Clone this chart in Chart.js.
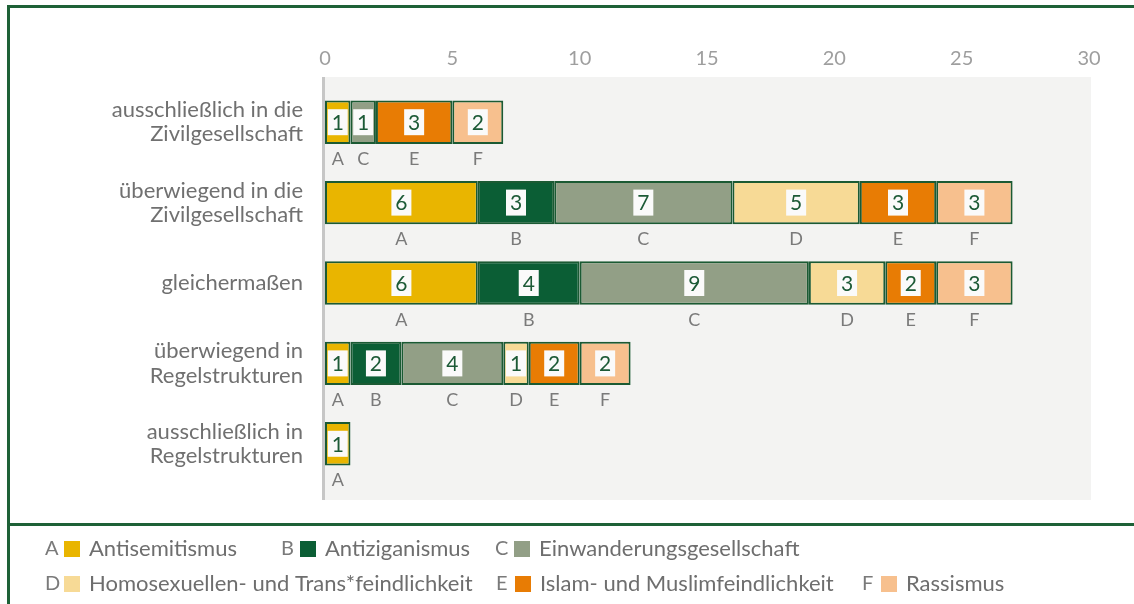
<!DOCTYPE html>
<html>
<head>
<meta charset="utf-8">
<script src="https://cdn.jsdelivr.net/npm/chart.js@4.4.1/dist/chart.umd.min.js"></script>
<style>
  html, body { margin: 0; padding: 0; background: #fff; }
  #wrap { width: 1134px; height: 604px; position: relative; }
</style>
</head>
<body>
<div id="wrap"><canvas id="chart" width="1134" height="604"></canvas></div>
<script>
// categories (y axis)
const categories = [
  ['ausschließlich in die', 'Zivilgesellschaft'],
  ['überwiegend in die', 'Zivilgesellschaft'],
  'gleichermaßen',
  ['überwiegend in', 'Regelstrukturen'],
  ['ausschließlich in', 'Regelstrukturen']
];

// series
const codes = ['A', 'B', 'C', 'D', 'E', 'F'];
const seriesNames = [
  'Antisemitismus',
  'Antiziganismus',
  'Einwanderungsgesellschaft',
  'Homosexuellen- und Trans*feindlichkeit',
  'Islam- und Muslimfeindlichkeit',
  'Rassismus'
];
const valuesA = [1, 6, 6, 1, 1];
const valuesB = [0, 3, 4, 2, 0];
const valuesC = [1, 7, 9, 4, 0];
const valuesD = [0, 5, 3, 1, 0];
const valuesE = [3, 3, 2, 2, 0];
const valuesF = [2, 3, 3, 2, 0];
const xTicks = [0, 5, 10, 15, 20, 25, 30];

const colors = ['#E9B500', '#0B5E35', '#929F86', '#F7DA96', '#E87C04', '#F7C08E'];
const FONT = 'Lato, "Open Sans", sans-serif';
const GREEN = '#1B5A33';

const allValues = [valuesA, valuesB, valuesC, valuesD, valuesE, valuesF];

const datasets = allValues.map((vals, i) => ({
  label: seriesNames[i],
  code: codes[i],
  data: vals,
  backgroundColor: colors[i],
  borderColor: GREEN,
  borderWidth: 2,
  borderSkipped: false,
  barPercentage: 1,
  categoryPercentage: 0.54
}));

// frame, plot background, bar labels, legend
const decor = {
  id: 'decor',
  beforeDraw(chart) {
    const { ctx, chartArea: ca } = chart;
    ctx.save();
    ctx.fillStyle = '#fff';
    ctx.fillRect(0, 0, chart.width, chart.height);
    // plot background
    ctx.fillStyle = '#F3F3F2';
    ctx.fillRect(ca.left - 2, ca.top - 5, ca.right - ca.left + 4, ca.bottom - ca.top + 21);
    // axis line
    ctx.fillStyle = '#C6C6C6';
    ctx.fillRect(ca.left - 3, ca.top - 5, 3, ca.bottom - ca.top + 21);
    // frame
    ctx.strokeStyle = '#1E6137';
    ctx.lineWidth = 3;
    ctx.beginPath();
    ctx.moveTo(8.5, chart.height);
    ctx.lineTo(8.5, 6.5);
    ctx.lineTo(chart.width, 6.5);
    ctx.moveTo(8.5, 524.5);
    ctx.lineTo(chart.width, 524.5);
    ctx.stroke();
    ctx.restore();
  },
  afterDatasetsDraw(chart) {
    const { ctx } = chart;
    ctx.save();
    ctx.textAlign = 'center';
    ctx.textBaseline = 'middle';
    chart.data.datasets.forEach((ds, di) => {
      const meta = chart.getDatasetMeta(di);
      meta.data.forEach((bar, i) => {
        const v = ds.data[i];
        if (!v) return;
        const cx = (bar.x + bar.base) / 2;
        ctx.fillStyle = '#FAFAFA';
        ctx.fillRect(cx - 10, bar.y - 13, 20, 26);
        ctx.fillStyle = '#1C5A36';
        ctx.font = '21px ' + FONT;
        ctx.fillText(String(v), cx, bar.y + 1);
        ctx.fillStyle = '#7A7A7A';
        ctx.font = '18px ' + FONT;
        ctx.fillText(ds.code, cx, bar.y + bar.height / 2 + 15);
      });
    });
    ctx.restore();
  },
  afterDraw(chart) {
    const { ctx } = chart;
    const legendX = [45, 281, 495, 45, 496, 862];
    const legendY = [549, 549, 549, 584, 584, 584];
    ctx.save();
    ctx.textBaseline = 'middle';
    ctx.textAlign = 'left';
    chart.data.datasets.forEach((ds, i) => {
      const x = legendX[i], y = legendY[i];
      ctx.font = '20px ' + FONT;
      ctx.fillStyle = '#7A7A7A';
      ctx.fillText(ds.code, x, y);
      ctx.fillStyle = ds.backgroundColor;
      ctx.fillRect(x + 19, y - 8, 16, 16);
      ctx.font = '22px ' + FONT;
      ctx.fillStyle = '#6E6E6E';
      ctx.fillText(ds.label, x + 44, y);
    });
    ctx.restore();
  }
};

new Chart(document.getElementById('chart'), {
  type: 'bar',
  data: { labels: categories, datasets },
  options: {
    indexAxis: 'y',
    responsive: false,
    animation: false,
    layout: { padding: { left: 0, right: 45, top: 0, bottom: 120 } },
    plugins: { legend: { display: false }, tooltip: { enabled: false } },
    scales: {
      x: {
        position: 'top',
        stacked: true,
        min: 0,
        max: 30,
        afterBuildTicks: s => { s.ticks = xTicks.map(v => ({ value: v })); },
        afterFit: s => { s.height = 82; },
        grid: { display: false, drawTicks: false },
        border: { display: false },
        ticks: { color: '#9E9E9E', padding: 11, font: { family: FONT, size: 20 } }
      },
      y: {
        stacked: true,
        afterFit: s => { s.width = 325; },
        grid: { display: false, drawTicks: false },
        border: { display: false },
        ticks: { color: '#707070', padding: 22, font: { family: FONT, size: 22, lineHeight: 1.1 } }
      }
    }
  },
  plugins: [decor]
});
</script>
</body>
</html>
